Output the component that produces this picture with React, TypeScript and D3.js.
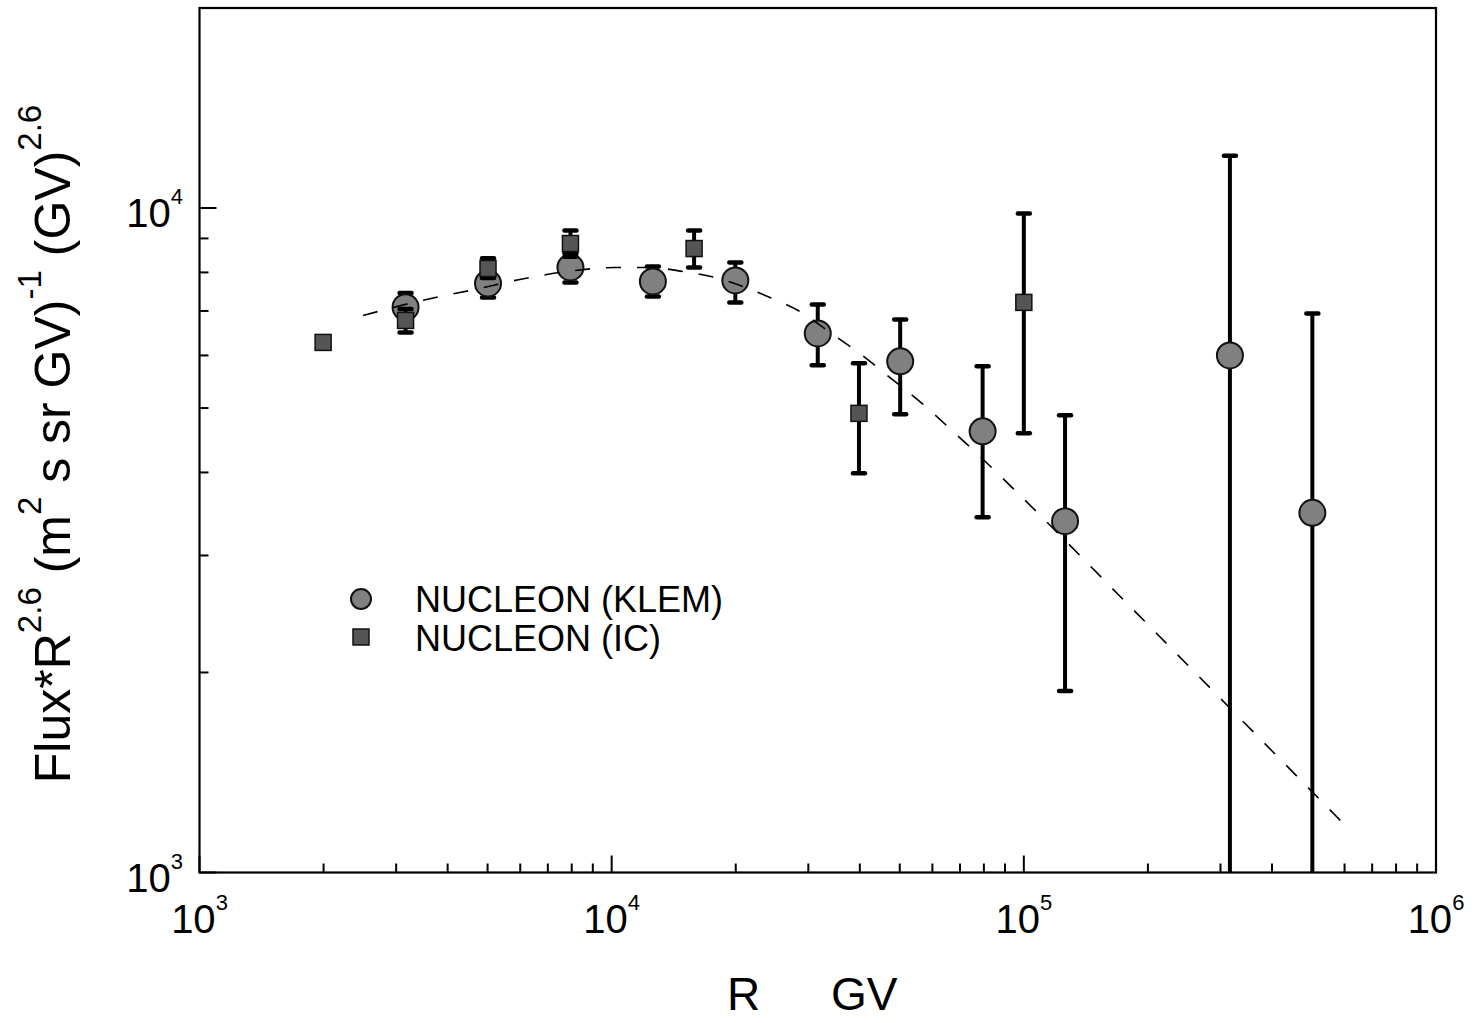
import React from "react";
import * as d3 from "d3";

// ---- data ----
const KLEM_R = [3162, 5012, 7943, 12589, 19953, 31623, 50119, 79433, 125893, 316228, 501187];
const KLEM_V = [7090, 7700, 8140, 7755, 7780, 6476, 5878, 4612, 3378, 6000, 3478];
const KLEM_LO = [6750, 7335, 7727, 7362, 7209, 5798, 4892, 3424, 1875, 500, 500];
const KLEM_HI = [7450, 8050, 8550, 8166, 8279, 7161, 6797, 5778, 4875, 11990, 6940];

const IC_R = [1995, 3162, 5012, 7943, 15849, 39811, 100000];
const IC_V = [6277, 6774, 8110, 8843, 8690, 4909, 7211];
const IC_LO = [6150, 6498, 7850, 8450, 8137, 3990, 4580];
const IC_HI = [6400, 7050, 8400, 9250, 9250, 5838, 9810];

const FIT_R = [2493, 3644, 4532, 6160, 7920, 10186, 12385, 14894, 17810, 24210, 28630, 33850, 40250, 47600, 56600, 67300, 80040, 94630, 171100, 316200, 618200];
const FIT_V = [6891, 7311, 7514, 7834, 8035, 8137, 8137, 8025, 7861, 7335, 6988, 6498, 6022, 5541, 5082, 4612, 4173, 3773, 2605, 1768, 1158];

const X_MAJOR = [1e3, 1e4, 1e5, 1e6];
const X_EXP = ["3", "4", "5", "6"];
const Y_MAJOR = [1e3, 1e4];
const Y_EXP = ["3", "4"];

const LEGEND = ["NUCLEON (KLEM)", "NUCLEON (IC)"];

const FONT = "Arial, 'Liberation Sans', Helvetica, sans-serif";

export default function App() {
  const W = 1474, H = 1023;
  const left = 199.5, right = 1436, top = 8, bottom = 872.5;
  const x = d3.scaleLog().domain([1e3, 1e6]).range([left, right]);
  const y = d3.scaleLog().domain([1e3, 2e4]).range([bottom, top]);

  const xMinor: number[] = [];
  for (let d = 1e3; d < 1e6; d *= 10) for (let k = 2; k <= 9; k++) xMinor.push(d * k);
  const yMinor: number[] = [];
  for (let k = 2; k <= 9; k++) yMinor.push(1e3 * k);

  const fit = FIT_R.map((r, i) => [x(r), y(FIT_V[i])] as [number, number]);
  const line = d3.line().curve(d3.curveMonotoneX)(fit) || "";

  const errBar = (r: number, lo: number, hi: number, key: string) => {
    const cx = x(r);
    const y1 = y(hi), y2 = y(lo);
    return (
      <g key={key}>
        <line x1={cx} x2={cx} y1={y1} y2={y2} stroke="#000" strokeWidth={4} />
        <line x1={cx - 6} x2={cx + 6} y1={y1} y2={y1} stroke="#000" strokeWidth={4.5} strokeLinecap="round" />
        <line x1={cx - 6} x2={cx + 6} y1={y2} y2={y2} stroke="#000" strokeWidth={4.5} strokeLinecap="round" />
      </g>
    );
  };

  return (
    <svg width={W} height={H} style={{ position: "absolute", left: 0, top: 0, background: "#fff" }} fontFamily={FONT}>
      <rect x={0} y={0} width={W} height={H} fill="#fff" />
      <defs>
        <clipPath id="plotclip">
          <rect x={left} y={top} width={right - left} height={bottom - top} />
        </clipPath>
      </defs>

      {/* ticks */}
      {xMinor.map((v, i) => (
        <line key={"xm" + i} x1={x(v)} x2={x(v)} y1={bottom} y2={bottom - 9} stroke="#000" strokeWidth={2} />
      ))}
      {X_MAJOR.map((v, i) => (
        <line key={"xM" + i} x1={x(v)} x2={x(v)} y1={bottom} y2={bottom - 17} stroke="#000" strokeWidth={2} />
      ))}
      {yMinor.map((v, i) => (
        <line key={"ym" + i} x1={left} x2={left + 9} y1={y(v)} y2={y(v)} stroke="#000" strokeWidth={2} />
      ))}
      {Y_MAJOR.map((v, i) => (
        <line key={"yM" + i} x1={left} x2={left + 17} y1={y(v)} y2={y(v)} stroke="#000" strokeWidth={2} />
      ))}

      {/* frame */}
      <rect x={left} y={top} width={right - left} height={bottom - top} fill="none" stroke="#000" strokeWidth={2.2} />

      {/* tick labels */}
      {X_MAJOR.map((v, i) => (
        <text key={"xl" + i} x={x(v)} y={933} textAnchor="middle" fontSize={40} fill="#000">
          10<tspan dy={-23} fontSize={22}>{X_EXP[i]}</tspan>
        </text>
      ))}
      {Y_MAJOR.map((v, i) => (
        <text key={"yl" + i} x={183} y={y(v) + 19} textAnchor="end" fontSize={40} fill="#000">
          10<tspan dy={-23} fontSize={22}>{Y_EXP[i]}</tspan>
        </text>
      ))}

      {/* axis titles */}
      <text y={1010} fontSize={46} fill="#000">
        <tspan x={727}>R</tspan>
        <tspan x={831}>GV</tspan>
      </text>
      <text transform="translate(70,444) rotate(-90)" textAnchor="middle" fontSize={50} fill="#000">
        Flux*R<tspan dy={-29} fontSize={33}>2.6</tspan>
        <tspan dy={29}> (m</tspan>
        <tspan dy={-29} fontSize={33}>2</tspan>
        <tspan dy={29}> s sr GV)</tspan>
        <tspan dy={-29} fontSize={33}>-1</tspan>
        <tspan dy={29}> (GV)</tspan>
        <tspan dy={-29} fontSize={33}>2.6</tspan>
      </text>

      <g clipPath="url(#plotclip)">
        {/* KLEM */}
        {KLEM_R.map((r, i) => errBar(r, KLEM_LO[i], KLEM_HI[i], "ke" + i))}
        {KLEM_R.map((r, i) => (
          <circle key={"kc" + i} cx={x(r)} cy={y(KLEM_V[i])} r={13} fill="#808080" stroke="#111" strokeWidth={2} />
        ))}
        {/* IC */}
        {IC_R.map((r, i) => errBar(r, IC_LO[i], IC_HI[i], "ie" + i))}
        {IC_R.map((r, i) => (
          <rect key={"ir" + i} x={x(r) - 8} y={y(IC_V[i]) - 8} width={16} height={16} fill="#555" stroke="#111" strokeWidth={1.5} />
        ))}
        {/* fit line */}
        <path d={line} fill="none" stroke="#000" strokeWidth={1.6} strokeDasharray="15,16" />
      </g>

      {/* legend */}
      <circle cx={361} cy={599} r={10} fill="#808080" stroke="#111" strokeWidth={2} />
      <text x={415} y={612} fontSize={36} fill="#000">{LEGEND[0]}</text>
      <rect x={353} y={629} width={16} height={16} fill="#555" stroke="#111" strokeWidth={1.5} />
      <text x={415} y={651} fontSize={36} fill="#000">{LEGEND[1]}</text>
    </svg>
  );
}
